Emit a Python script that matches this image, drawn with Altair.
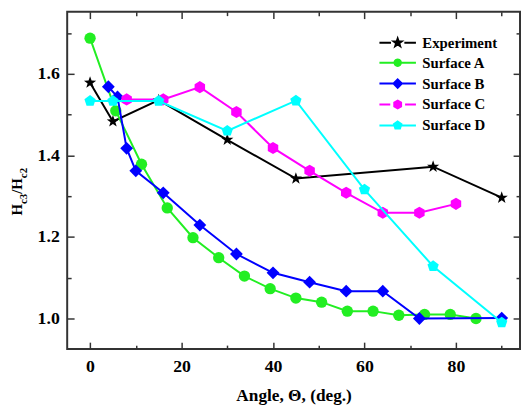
import math
import altair as alt
import pandas as pd

# ---------------- data ----------------
series_names = ["Experiment", "Surface A", "Surface B", "Surface C", "Surface D"]
series_colors = ["#000000", "#22ee22", "#0000ff", "#ff00ff", "#00ffff"]

exp_x = [0, 5, 15, 30, 45, 75, 90]
exp_y = [1.578, 1.483, 1.535, 1.438, 1.343, 1.372, 1.296]

a_x = [0, 5.625, 11.25, 16.875, 22.5, 28.125, 33.75, 39.375, 45, 50.625,
       56.25, 61.875, 67.5, 73.125, 78.75, 84.375]
a_y = [1.687, 1.509, 1.378, 1.271, 1.198, 1.149, 1.104, 1.073, 1.050, 1.040,
       1.018, 1.018, 1.008, 1.010, 1.010, 1.000]

b_x = [4, 6, 8, 10, 16, 24, 32, 40, 48, 56, 64, 72, 90]
b_y = [1.568, 1.543, 1.417, 1.362, 1.308, 1.229, 1.158, 1.112, 1.089, 1.067,
       1.067, 1.000, 1.001]

c_x = [8, 16, 24, 32, 40, 48, 56, 64, 72, 80]
c_y = [1.537, 1.537, 1.567, 1.506, 1.418, 1.362, 1.308, 1.259, 1.259, 1.281]

d_x = [0, 5, 15, 30, 45, 60, 75, 90]
d_y = [1.533, 1.533, 1.533, 1.460, 1.534, 1.316, 1.128, 0.990]

x_major = [0, 20, 40, 60, 80]
x_ticks = [0, 10, 20, 30, 40, 50, 60, 70, 80, 90]
y_major = [1.0, 1.2, 1.4, 1.6]
y_ticks = [1.0, 1.1, 1.2, 1.3, 1.4, 1.5, 1.6, 1.7]

x_title = "Angle, \u0398, (deg.)"
y_title_pieces = ["H", "c3", "/", "H", "c2"]

# ---------------- styling ----------------
W, H = 459, 342
X_DOMAIN = [-5, 94]
Y_DOMAIN = [0.925, 1.752]
FONT = "Liberation Serif"
AXC = "#333333"


def fmt(pts):
    return "M" + "L".join(f"{x:.3f},{y:.3f}" for x, y in pts) + "Z"


def polygon(n, r, start=-90.0):
    return fmt([(r * math.cos(math.radians(start + 360.0 * i / n)),
                 r * math.sin(math.radians(start + 360.0 * i / n))) for i in range(n)])


def star(ro, ri):
    pts = []
    for i in range(10):
        r = ro if i % 2 == 0 else ri
        a = math.radians(-90 + 36 * i)
        pts.append((r * math.cos(a), r * math.sin(a)))
    return fmt(pts)


def diamond(r):
    return fmt([(0, -r), (r, 0), (0, r), (-r, 0)])


STAR = star(1.0, 0.40)
HEXA = polygon(6, 1.0)
PENTA = polygon(5, 1.0)

LINE_FULL = "M-3.7,0L3.7,0"
legend_paths = [
    "M-3.7,0L-1.35,0M1.35,0L3.7,0" + star(0.85, 0.34),
    LINE_FULL + polygon(24, 0.65),
    LINE_FULL + diamond(0.85),
    "M-3.7,0L-1.5,0M1.5,0L3.7,0" + polygon(6, 0.8),
    LINE_FULL + polygon(5, 0.8),
]

series = [
    (exp_x, exp_y, series_colors[0], STAR, 169),
    (a_x, a_y, series_colors[1], "circle", 132),
    (b_x, b_y, series_colors[2], "diamond", 169),
    (c_x, c_y, series_colors[3], HEXA, 150),
    (d_x, d_y, series_colors[4], PENTA, 144),
]

xs = alt.Scale(domain=X_DOMAIN, nice=False, zero=False)
ys = alt.Scale(domain=Y_DOMAIN, nice=False, zero=False)

layers = []

# ---- axes (frame drawn by view stroke, ticks pointing inward) ----
dummy = pd.DataFrame({"x": [0.0], "y": [1.0]})
x_tick_size = {"condition": {"test": "datum.value % 20 === 0", "value": 7}, "value": 4}
y_tick_size = {"condition": {"test": "round(datum.value * 10) % 2 === 0", "value": 7}, "value": 4}

lab_common = dict(labelFont=FONT, labelFontSize=18, labelFontWeight="bold",
                  labelColor="black", domain=False, grid=False, ticks=False)
tick_common = dict(labels=False, domain=False, grid=False, ticks=True,
                   tickColor=AXC, tickWidth=1.5)

x_label_axis = alt.Axis(orient="bottom", values=x_major, format="d", labelPadding=9,
                        labelFlush=False, title=x_title, titleFont=FONT,
                        titleFontSize=17.5, titleFontWeight="bold", titleColor="black",
                        titlePadding=11, **lab_common)
y_label_axis = alt.Axis(orient="left", values=y_major, format=".1f", labelPadding=8,
                        **lab_common)

axis_sets = [
    (x_label_axis, y_label_axis),
    (alt.Axis(orient="top", offset=-H, values=x_ticks, tickSize=x_tick_size, **tick_common),
     alt.Axis(orient="right", offset=-W, values=y_ticks, tickSize=y_tick_size, **tick_common)),
    (alt.Axis(orient="bottom", offset=-H, values=x_ticks, tickSize=x_tick_size, **tick_common),
     alt.Axis(orient="left", offset=-W, values=y_ticks, tickSize=y_tick_size, **tick_common)),
]
for i, (xa, ya) in enumerate(axis_sets):
    layers.append(
        alt.Chart(dummy).mark_point(opacity=0).encode(
            x=alt.X("x:Q", scale=xs, axis=xa, title=x_title if i == 0 else None),
            y=alt.Y("y:Q", scale=ys, axis=ya, title=None),
        )
    )

# ---- data series ----
for xv, yv, col, shp, sz in series:
    df = pd.DataFrame({"x": xv, "y": yv})
    enc = dict(x=alt.X("x:Q", scale=xs, axis=None), y=alt.Y("y:Q", scale=ys, axis=None))
    layers.append(alt.Chart(df).mark_line(color=col, strokeWidth=2).encode(**enc))
    layers.append(alt.Chart(df).mark_point(shape=shp, size=sz, filled=True, color=col,
                                           opacity=1).encode(**enc))

# ---- legend ----
legend_df = pd.DataFrame({"series": pd.Series([], dtype="object")})
leg = dict(title=None, orient="none", legendX=327.5, legendY=24, padding=0,
           symbolSize=100, symbolStrokeWidth=2, symbolOffset=0, symbolOpacity=1,
           labelOffset=17.5, labelFont=FONT, labelFontSize=15, labelFontWeight="bold",
           labelColor="black", labelLimit=400, rowPadding=4.2)
layers.append(
    alt.Chart(legend_df).mark_point(filled=True, opacity=1).encode(
        fill=alt.Fill("series:N", scale=alt.Scale(domain=series_names, range=series_colors),
                      legend=alt.Legend(**leg)),
        stroke=alt.Stroke("series:N", scale=alt.Scale(domain=series_names, range=series_colors),
                          legend=alt.Legend(**leg)),
        shape=alt.Shape("series:N", scale=alt.Scale(domain=series_names, range=legend_paths),
                        legend=alt.Legend(**leg)),
    )
)

# ---- y title with subscripts (rotated text pieces) ----
adv = {"H": 0.778, "c": 0.444, "2": 0.5, "3": 0.5, "/": 0.278}
sizes = [15, 11, 15, 15, 11]
base_x = [-46, -41, -46, -46, -41]
widths = [sum(adv[ch] for ch in p) * s for p, s in zip(y_title_pieces, sizes)]
ypos = 182.5 + sum(widths) / 2
for p, s, bx, w in zip(y_title_pieces, sizes, base_x, widths):
    layers.append(
        alt.Chart(pd.DataFrame({"t": [p]})).mark_text(
            angle=270, align="left", baseline="alphabetic", font=FONT, fontSize=s,
            fontWeight="bold", color="black"
        ).encode(text="t:N", x=alt.value(bx), y=alt.value(ypos))
    )
    ypos -= w

chart = (
    alt.layer(*layers)
    .resolve_axis(x="independent", y="independent")
    .properties(width=W, height=H, autosize=alt.AutoSizeParams(type="none"),
                padding={"left": 60, "top": 1, "right": 1, "bottom": 58})
    .configure_view(stroke=AXC, strokeWidth=2)
    .configure_axis(labelFont=FONT, titleFont=FONT, labelFontWeight="bold",
                    titleFontWeight="bold")
    .configure_legend(labelFont=FONT)
    .configure_text(font=FONT)
)

chart.save("out.html", embed_options={"renderer": "svg", "actions": False})
